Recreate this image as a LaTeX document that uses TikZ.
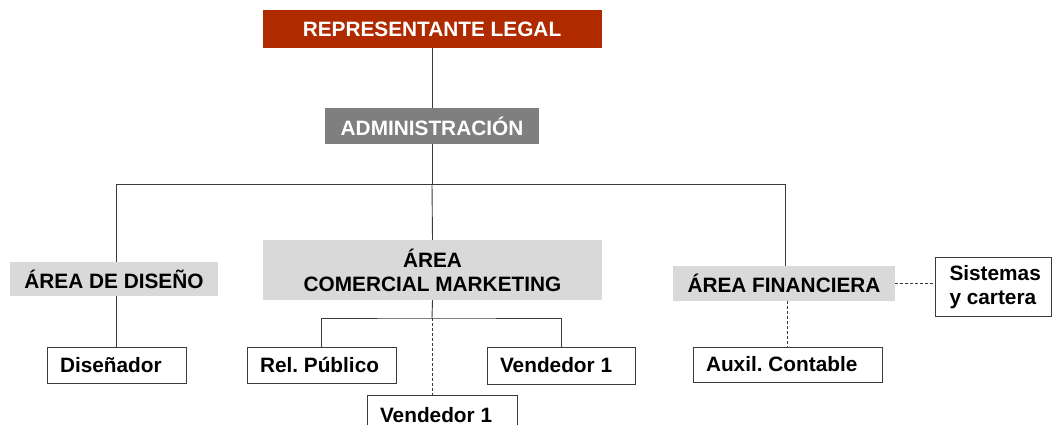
\documentclass[tikz,border=0pt]{standalone}
\usepackage{fontspec}
\setmainfont{Liberation Sans}
\definecolor{repred}{HTML}{B02A00}
\definecolor{admgray}{HTML}{7F7F7F}
\definecolor{areagray}{HTML}{D9D9D9}
\definecolor{linegray}{HTML}{3A3A3A}
\tikzset{
  base/.style={inner sep=0pt, font=\fontsize{20.8}{24}\selectfont\bfseries, align=center},
  topbox/.style={base, fill=repred, text=white},
  admbox/.style={base, fill=admgray, text=white},
  areabox/.style={base, fill=areagray, text=black},
  staffbox/.style={base, fill=white, draw=linegray, line width=1pt, text=black, align=flush left},
  conn/.style={draw=linegray, line width=0.9pt},
  dconn/.style={conn, dash pattern=on 3pt off 2pt},
}
\begin{document}
\begin{tikzpicture}[x=1pt,y=-1pt]
\clip (0,0) rectangle (1052,425);
\fill[white] (0,0) rectangle (1052,425);
% nodes
\node[topbox, minimum width=339pt, minimum height=38pt] (rep) at (432,29) {REPRESENTANTE LEGAL};
\node[admbox, minimum width=214pt, minimum height=36pt] (adm) at (432,126) {ADMINISTRACIÓN};
\node[areabox, minimum width=208pt, minimum height=34pt] (dis) at (114,279) {ÁREA DE DISEÑO};
\node[areabox, minimum width=339pt, minimum height=60pt] (com) at (432.5,270) {ÁREA\\COMERCIAL MARKETING};
\node[areabox, minimum width=222pt, minimum height=35pt] (fin) at (784,283.5) {ÁREA FINANCIERA};
\node[staffbox, minimum width=139pt, minimum height=36pt, text width=113pt] (d1) at (116.5,365) {Diseñador};
\node[staffbox, minimum width=149pt, minimum height=36pt, text width=123pt] (rp) at (321.5,365) {Rel.~Público};
\node[staffbox, minimum width=148pt, minimum height=37pt, text width=122pt] (v1) at (561,365.5) {Vendedor~1};
\node[staffbox, minimum width=150pt, minimum height=40pt, text width=124pt] (v2) at (442,415) {Vendedor~1};
\node[staffbox, minimum width=189pt, minimum height=35pt, text width=163pt] (aux) at (787.5,364.5) {Auxil.~Contable};
\node[staffbox, minimum width=116pt, minimum height=59pt, text width=88pt] (sis) at (993.5,287) {Sistemas\\y~cartera};
% coordinates
\coordinate (busC) at (432,184);
\coordinate (busL) at (116,184);
\coordinate (busR) at (785,184);
\coordinate (cm) at (432,318);
% connectors
\draw[conn] (rep.south) -- (adm.north);
\draw[conn] (adm.south) -- (busC);
\draw[conn] (busL |- dis.north) -- (busL) -- (busR) -- (busR |- fin.north);
\draw[conn] (busC) -- (com.north);
\draw[conn] (busL |- dis.south) -- (busL |- d1.north);
\draw[conn] (com.south) -- (cm);
\draw[conn] (rp.north) |- (cm) -| (v1.north);
\draw[dconn] (cm) -- (cm |- v2.north);
\draw[dconn] (aux.north |- fin.south) -- (aux.north);
\draw[dconn] (fin.east) -- (fin.east -| sis.west);
\end{tikzpicture}
\end{document}
